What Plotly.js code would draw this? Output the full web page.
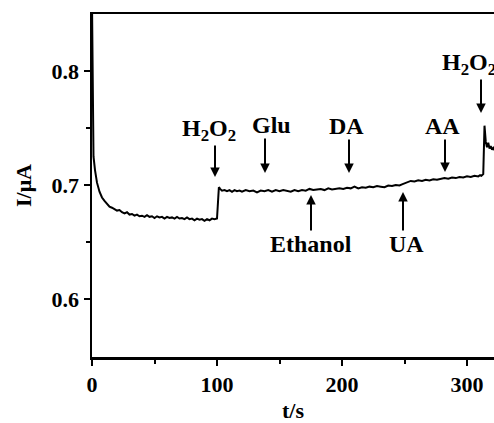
<!DOCTYPE html>
<html>
<head>
<meta charset="utf-8">
<script src="https://cdn.plot.ly/plotly-3.0.1.min.js"></script>
<style>html,body{margin:0;padding:0;background:#fff;}#chart{width:494px;height:423px;}</style>
</head>
<body>
<div id="chart"></div>
<script>
// time (s)
const timeS = [0,0.6,1.2,2.4,4,6,8,10,12,14,16,18,20,22,24,26,28,30,32,34,36,38,40,42,44,46,48,50,52,54,56,58,60,62,64,66,68,70,72,74,76,78,80,82,84,86,88,90,92,94,96,98,100,100.8,101.5,102.5,104,106,108,110,112,114,116,118,120,123,126,129,132,135,138,141,144,147,150,153,156,159,162,165,168,171,174,177,180,183,186,189,192,195,198,201,204,207,210,213,216,219,222,225,228,231,234,237,240,243,246,248,250,252,255,258,261,264,267,270,273,276,279,282,285,288,291,294,297,300,303,306,309,310.5,311.5,312.2,313,314,315,316,317,318,319,320,321,322];
// current (uA)
const currentUA = [0.86,0.78,0.725,0.713,0.702,0.694,0.689,0.686,0.683,0.681,0.680,0.679,0.6775,0.678,0.676,0.675,0.676,0.674,0.6745,0.673,0.674,0.6725,0.673,0.672,0.6735,0.672,0.6725,0.671,0.6725,0.6715,0.672,0.6705,0.672,0.671,0.6715,0.6705,0.672,0.6705,0.671,0.670,0.6715,0.670,0.6705,0.669,0.6705,0.6695,0.670,0.6685,0.670,0.669,0.6705,0.670,0.6705,0.685,0.698,0.6965,0.695,0.6955,0.6945,0.6955,0.694,0.6955,0.6945,0.695,0.694,0.6955,0.6945,0.695,0.6935,0.695,0.6945,0.6955,0.694,0.6955,0.6945,0.6955,0.695,0.694,0.6955,0.6945,0.6955,0.695,0.6965,0.6955,0.696,0.6965,0.6955,0.697,0.696,0.6965,0.697,0.6965,0.6975,0.697,0.6985,0.697,0.698,0.6975,0.6985,0.698,0.699,0.6985,0.698,0.6995,0.699,0.700,0.6995,0.7005,0.7015,0.7025,0.7035,0.703,0.704,0.7035,0.7045,0.704,0.705,0.7045,0.7055,0.706,0.7055,0.7065,0.706,0.707,0.7065,0.7075,0.707,0.708,0.7075,0.7085,0.708,0.709,0.7095,0.752,0.738,0.733,0.737,0.732,0.734,0.731,0.7325,0.7305,0.731,0.730,0.7305,0.7295];

// event labels (arrow tip in data units, label offset in px)
const eventLabels = ['H<sub>2</sub>O<sub>2</sub>&nbsp;&nbsp;','&nbsp;&nbsp;Glu','DA&nbsp;','AA&nbsp;','H<sub>2</sub>O<sub>2</sub>&nbsp;&nbsp;&nbsp;&nbsp;','Ethanol','&nbsp;UA'];
const eventT = [98.4,138.4,205.6,282.4,311.2,175.2,248.8];
const eventTip = [0.707,0.7105,0.7105,0.7114,0.7632,0.6912,0.6939];
const labelDx = [0,0,0,0,0,0,0];
const labelDy = [-47,-48,-47,-46,-49,49,52];

const FONT = 'Liberation Serif, Times New Roman, serif';
const annotations = eventLabels.map((t,i)=>({
  x:eventT[i],y:eventTip[i],xref:'x',yref:'y',ax:labelDx[i],ay:labelDy[i],
  text:t,showarrow:true,arrowhead:2,arrowsize:0.95,arrowwidth:2,arrowcolor:'#000',
  borderpad:0,font:{family:FONT,size:24,color:'#000',weight:'bold'}
}));

const trace = {x:timeS,y:currentUA,mode:'lines',type:'scatter',
  line:{color:'#000',width:2},hoverinfo:'skip'};

const tickFont = {family:FONT,size:22,color:'#000',weight:'bold'};
const layout = {
  width:494,height:423,
  margin:{l:92,r:0,t:14,b:66},
  paper_bgcolor:'#fff',plot_bgcolor:'#fff',
  showlegend:false,
  xaxis:{range:[0,321.6],tickvals:[0,100,200,300],ticktext:['0','100','200','300'],
    ticks:'outside',ticklen:6,tickwidth:2,tickcolor:'#000',
    minor:{tickvals:[50,150,250],ticks:'outside',ticklen:4,tickwidth:2,tickcolor:'#000',showgrid:false},
    showline:true,linewidth:2.5,linecolor:'#000',mirror:true,showgrid:false,zeroline:false,
    tickfont:tickFont,
    title:{text:'t/s',font:{family:FONT,size:22,color:'#000',weight:'bold'},standoff:8}},
  yaxis:{range:[0.549,0.85],tickvals:[0.6,0.7,0.8],ticktext:['0.6','0.7','0.8'],
    ticks:'outside',ticklen:6,tickwidth:2,tickcolor:'#000',
    minor:{tickvals:[0.65,0.75],ticks:'outside',ticklen:4,tickwidth:2,tickcolor:'#000',showgrid:false},
    showline:true,linewidth:2.5,linecolor:'#000',mirror:false,showgrid:false,zeroline:false,
    tickfont:tickFont,
    title:{text:'I/μA',font:{family:FONT,size:22,color:'#000',weight:'bold'},standoff:14}},
  annotations:annotations
};
Plotly.newPlot('chart',[trace],layout,{staticPlot:true,displayModeBar:false});
</script>
</body>
</html>
